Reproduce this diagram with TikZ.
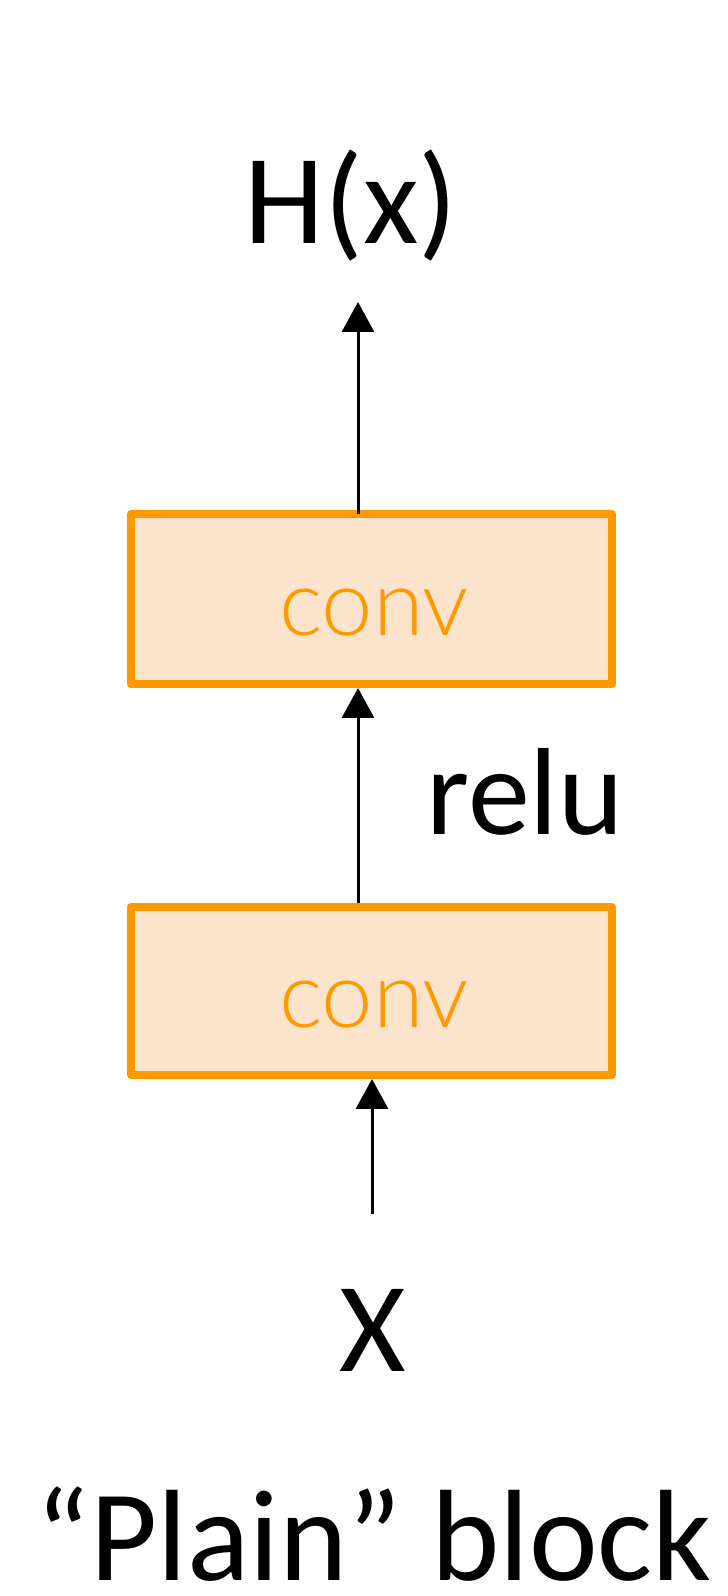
\documentclass[tikz,border=0pt]{standalone}
\usepackage{fontspec}
\setmainfont{Carlito}
\newfontfamily\convfont{Lato}[UprightFont=* Light]
\usetikzlibrary{arrows.meta}

\definecolor{convorange}{HTML}{FF9900}
\definecolor{convfill}{HTML}{FCE4CC}

\tikzset{
  convbox/.style={draw=convorange, fill=convfill, line width=4pt, line join=round},
  convlabel/.style={anchor=base, text=convorange, font=\convfont\fontsize{46}{46}\selectfont},
  flow/.style={line width=1.5pt, -{Triangle[width=16pt,length=15pt]}},
  big/.style={anchor=base, inner sep=0pt, font=\fontsize{64}{64}\selectfont}
}

\begin{document}
\begin{tikzpicture}[x=0.5pt, y=0.5pt]
  \useasboundingbox (0,0) rectangle (728,1596);

  % the two conv layers
  \draw[convbox] (131,912) rectangle (612,1082);
  \node[convlabel] (convtop) at (374,960) {conv};
  \draw[convbox] (131,521) rectangle (612,689);
  \node[convlabel] (convbot) at (374,568) {conv};

  \coordinate (toptop) at (358,1082);
  \coordinate (topbot) at (358,908);
  \coordinate (bottop) at (358,693);
  \coordinate (botbot) at (372,517);
  \coordinate (xin) at (372,382);
  \coordinate (hout) at (358,1294);

  % input, output and labels
  \node[big] (hx) at (351,1352) {H(x)};
  \node[big] (x) at (373,224) {X};
  \node[anchor=base west, inner sep=0pt, font=\fontsize{62}{62}\selectfont] (relu) at (426,761) {relu};
  \node[big, font=\fontsize{65}{65}\selectfont] (title) at (374,15) {“Plain” block};

  \draw[flow] (xin) -- (botbot);
  \draw[flow] (bottop) -- (topbot);
  \draw[flow] (toptop) -- (hout);
\end{tikzpicture}
\end{document}
